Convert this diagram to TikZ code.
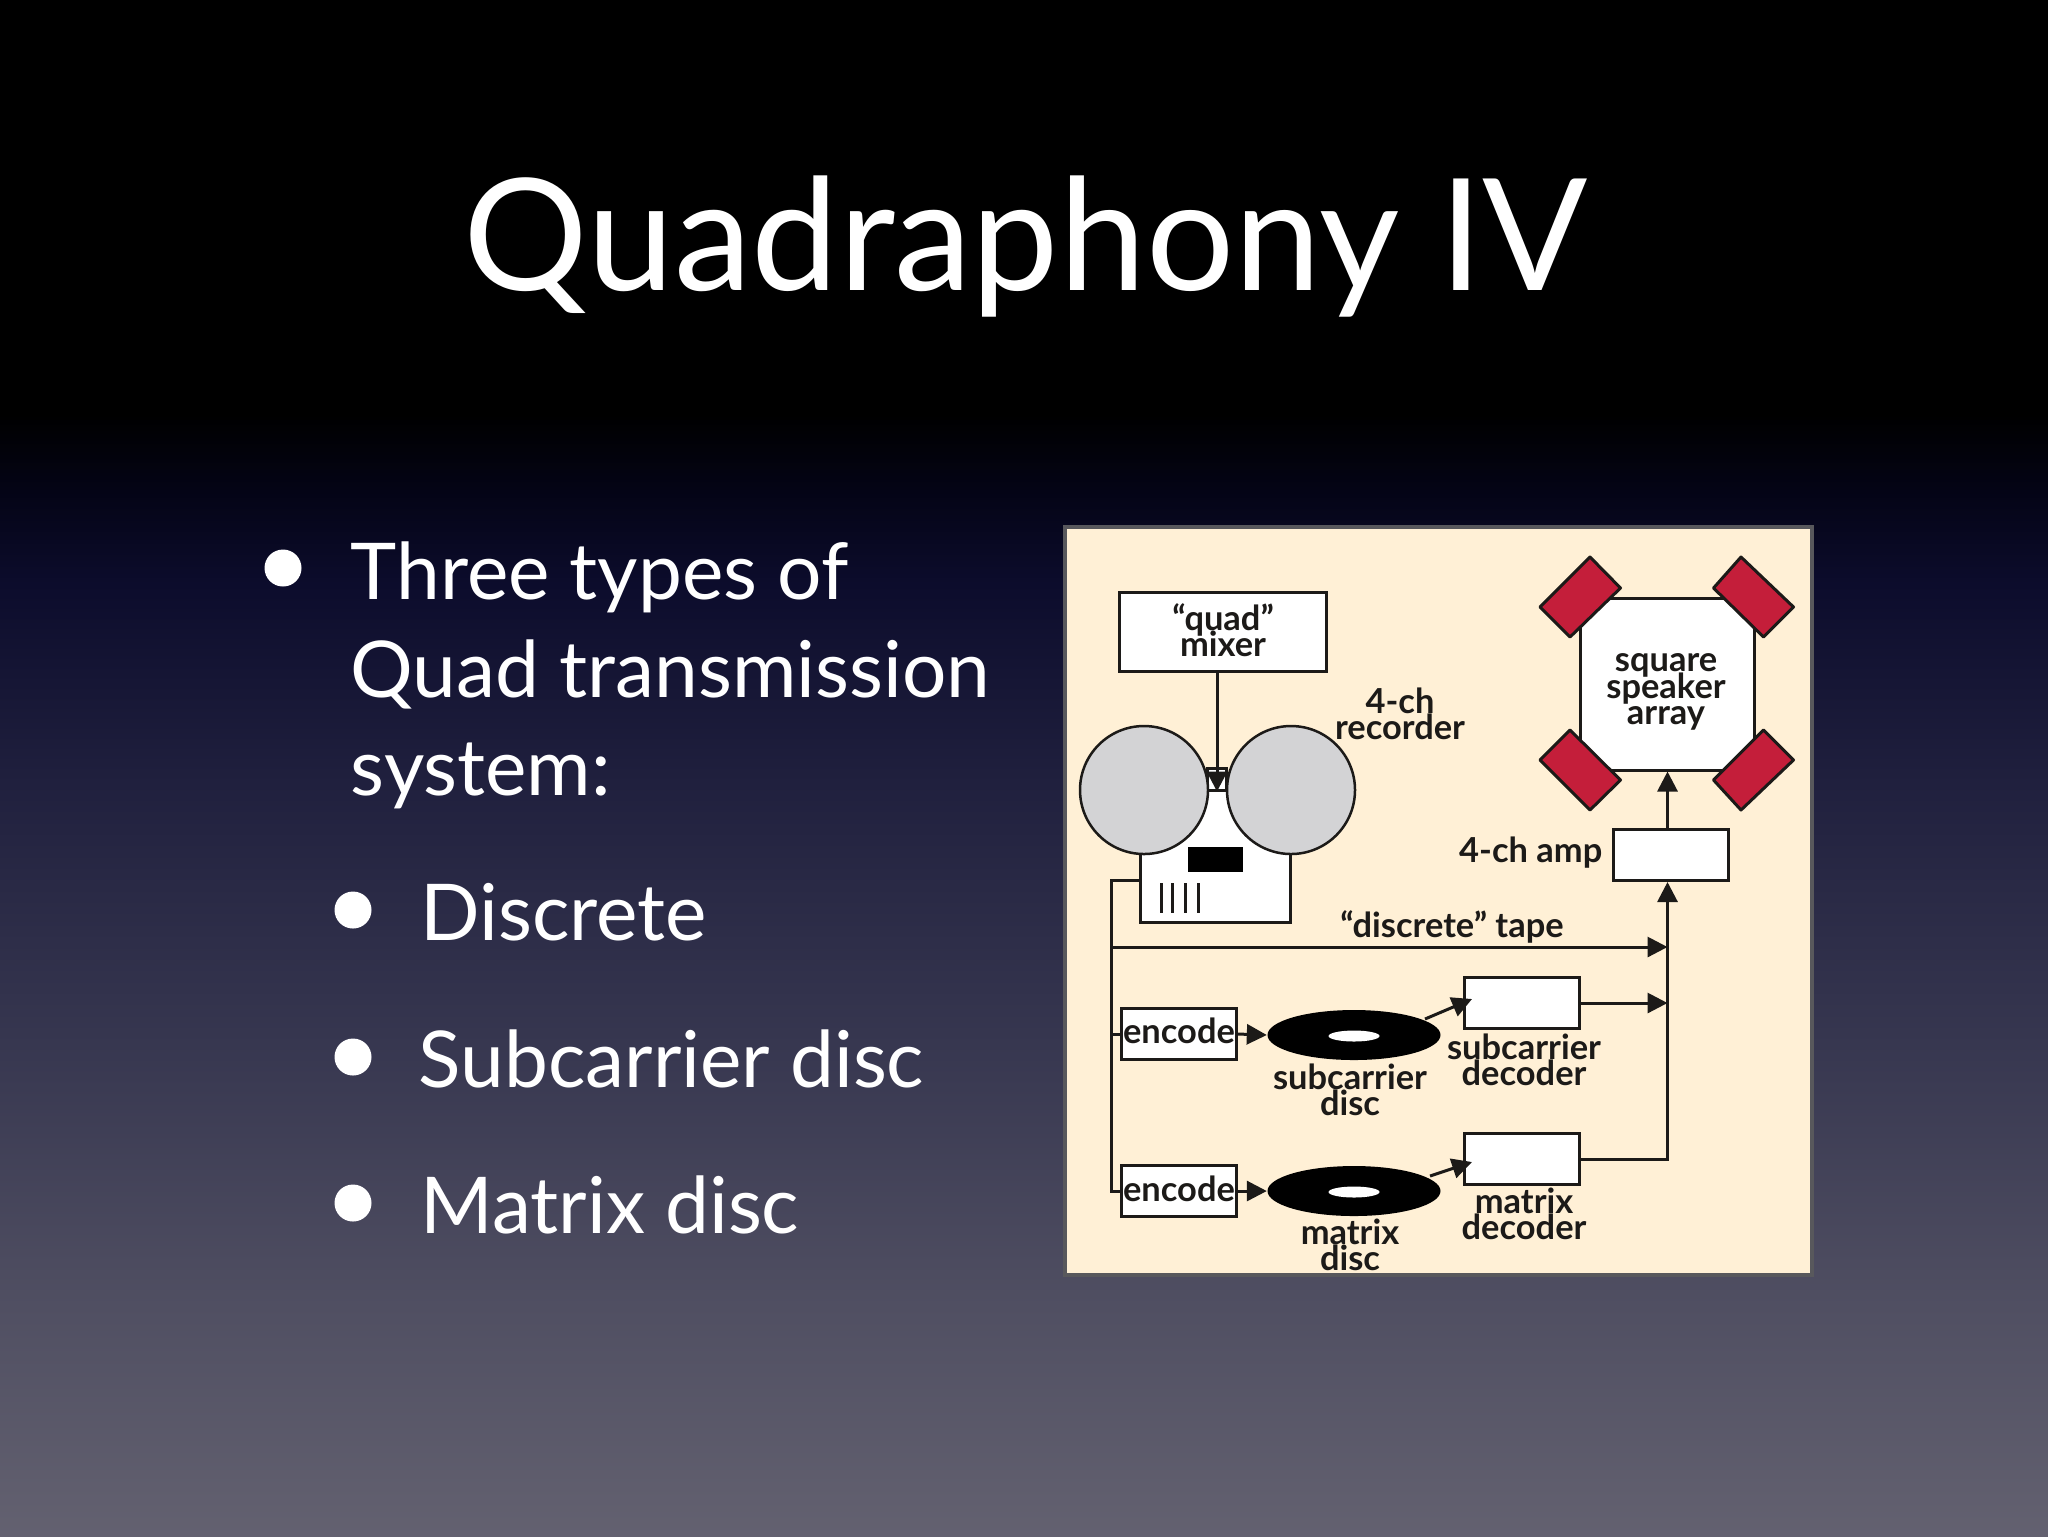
\documentclass[tikz,border=0pt]{standalone}
\usepackage{fontspec}
\setmainfont{Lato}
\usepackage{tikz}
\usetikzlibrary{arrows.meta, shapes.geometric}
\definecolor{paneltan}{RGB}{255,240,214}
\definecolor{reelgray}{RGB}{211,211,213}
\definecolor{speakerred}{RGB}{196,30,58}
\definecolor{inkblack}{RGB}{28,26,24}
\definecolor{panelrim}{RGB}{88,88,92}
\definecolor{slideA}{RGB}{99,97,112}
\definecolor{slideB}{RGB}{80,79,98}
\definecolor{slideC}{RGB}{55,55,80}
\definecolor{slideD}{RGB}{32,32,62}
\definecolor{slideE}{RGB}{12,12,44}
\definecolor{slideF}{RGB}{4,4,22}
\pgfdeclareverticalshading{slidebg}{100bp}{
  color(0bp)=(slideA);
  color(25bp)=(slideA);
  color(32.5bp)=(slideB);
  color(41bp)=(slideC);
  color(49.5bp)=(slideD);
  color(56bp)=(slideE);
  color(59bp)=(slideF);
  color(61.5bp)=(black);
  color(100bp)=(black)}
\newcommand{\tagfont}{\fontsize{9.8}{7.5}\selectfont\bfseries\lineskiplimit -100pt\relax\lineskip 0pt\relax}
\tikzset{
  boxnode/.style={draw=inkblack, fill=white, line width=0.3mm, inner sep=0pt},
  tagtext/.style={text=inkblack, align=center, inner sep=0pt, font=\tagfont},
  wire/.style={draw=inkblack, line width=0.3mm},
  tipwire/.style={wire, -{Triangle[length=2mm, width=2mm]}},
  speaker/.style={draw=inkblack, fill=speakerred, line width=0.3mm, line join=round},
  slidetext/.style={text=white, anchor=base west, inner sep=0pt, font=\fontsize{22.3}{28}\selectfont},
  dotnode/.style={circle, fill=white, inner sep=0pt, minimum size=3.7mm},
  reelnode/.style={circle, draw=inkblack, fill=reelgray, line width=0.25mm, inner sep=0pt, minimum size=12.8mm},
  discnode/.style={ellipse, fill=black, inner sep=0pt, minimum width=17.3mm, minimum height=5mm},
  holenode/.style={ellipse, fill=white, inner sep=0pt, minimum width=5.1mm, minimum height=1.1mm},
  smallbox/.style={boxnode, minimum width=11.5mm, minimum height=5.1mm}
}
\begin{document}
\begin{tikzpicture}[x=0.1mm, y=-0.1mm]
  \shade[shading=slidebg] (0,0) rectangle (2048,1536);
  \node[text=white, anchor=base, inner sep=0pt, font=\fontsize{44.3}{50}\selectfont] (title) at (1026,290) {Quadraphony IV};
  \node[dotnode] (dot1) at (283,568) {};
  \node[slidetext] (three) at (350,599) {Three types of};
  \node[slidetext] (quadline) at (350,697) {Quad transmission};
  \node[slidetext] (systemline) at (350,795) {system:};
  \node[dotnode] (dot2) at (353,910) {};
  \node[slidetext] (discrete) at (420,940) {Discrete};
  \node[dotnode] (dot3) at (353,1057) {};
  \node[slidetext] (subcarrier) at (418,1087) {Subcarrier disc};
  \node[dotnode] (dot4) at (353,1203) {};
  \node[slidetext] (matrix) at (420,1233) {Matrix disc};

  \draw[draw=panelrim, fill=paneltan, line width=0.4mm] (1065,527) rectangle (1812,1275);
  \node[boxnode, minimum width=20.7mm, minimum height=7.9mm] (mixer) at (1223,632) {};
  \node[tagtext] (mixertext) at (1223,630) {“quad”\\mixer};

  \node[boxnode, minimum width=17.4mm, minimum height=17.2mm] (array) at (1667.5,684) {};
  \draw[speaker] (1590,557) -- (1620.5,588) -- (1570,637) -- (1540,607) -- cycle;
  \draw[speaker] (1741,557) -- (1713.5,588) -- (1763.5,637) -- (1793.5,607) -- cycle;
  \draw[speaker] (1570,730) -- (1540,760) -- (1590,810) -- (1620.5,780) -- cycle;
  \draw[speaker] (1763.5,730) -- (1793.5,760) -- (1741,810) -- (1713.5,780) -- cycle;
  \node[tagtext] (arraytext) at (1666,692) {square\\speaker\\array};

  \node[boxnode, minimum width=1.85mm, minimum height=2.2mm] (neck) at (1217,779) {};
  \node[boxnode, minimum width=15mm, minimum height=13.2mm] (recorder) at (1215.5,856) {};
  \node[reelnode] (reelleft) at (1144,790) {};
  \node[reelnode] (reelright) at (1291,790) {};
  \fill[black] (1187.5,847) rectangle (1242.5,872);
  \foreach \tickx in {1161,1172.5,1185,1198.5}
    \draw[wire] (\tickx,883) -- (\tickx,913);
  \node[tagtext] (recordertext) at (1400,714) {4-ch\\recorder};

  \node[smallbox] (amp) at (1671,855) {};
  \node[tagtext, anchor=east] (amptext) at (1603,853) {4-ch amp};
  \node[tagtext] (tapetext) at (1452,927) {“discrete” tape};

  \node[smallbox] (encodeA) at (1178.5,1034) {};
  \node[smallbox] (encodeB) at (1178.5,1191) {};
  \node[tagtext] (encodeAtext) at (1179,1031) {encode};
  \node[tagtext] (encodeBtext) at (1179,1189) {encode};
  \node[discnode] (discA) at (1354,1035) {};
  \node[discnode] (discB) at (1354,1191) {};
  \node[holenode] (holeA) at (1354,1036) {};
  \node[holenode] (holeB) at (1354,1192) {};
  \node[smallbox] (decoderA) at (1522,1003) {};
  \node[smallbox] (decoderB) at (1522,1159) {};
  \node[tagtext] (decoderAtext) at (1524,1060) {subcarrier\\decoder};
  \node[tagtext] (discAtext) at (1350,1090) {subcarrier\\disc};
  \node[tagtext] (decoderBtext) at (1524,1214) {matrix\\decoder};
  \node[tagtext] (discBtext) at (1350,1245) {matrix\\disc};

  \coordinate (recout) at (1141.5,880);
  \coordinate (leftbus) at (1111,880);
  \coordinate (tapeend) at (1667.5,947);
  \coordinate (discAout) at (1425,1019);
  \coordinate (discBout) at (1430,1176);
  \coordinate (decoderAin) at (1472,999);
  \coordinate (decoderBin) at (1472,1162);
  \draw[tipwire] (mixer.south -| neck) -- (neck.south);
  \draw[tipwire] (array.south |- amp.north) -- (array.south);
  \draw[wire] (recout) -- (leftbus) |- (encodeB.west);
  \draw[wire] (leftbus |- encodeA.west) -- (encodeA.west);
  \draw[tipwire] (leftbus |- tapeend) -- (tapeend);
  \draw[tipwire] (decoderB.east) -| (array.south |- amp.south);
  \draw[tipwire] (decoderA.east) -- (decoderA.east -| tapeend);
  \draw[tipwire] (encodeA.east) -- (discA.west);
  \draw[tipwire] (encodeB.east) -- (discB.west);
  \draw[tipwire] (discAout) -- (decoderAin);
  \draw[tipwire] (discBout) -- (decoderBin);
\end{tikzpicture}
\end{document}
